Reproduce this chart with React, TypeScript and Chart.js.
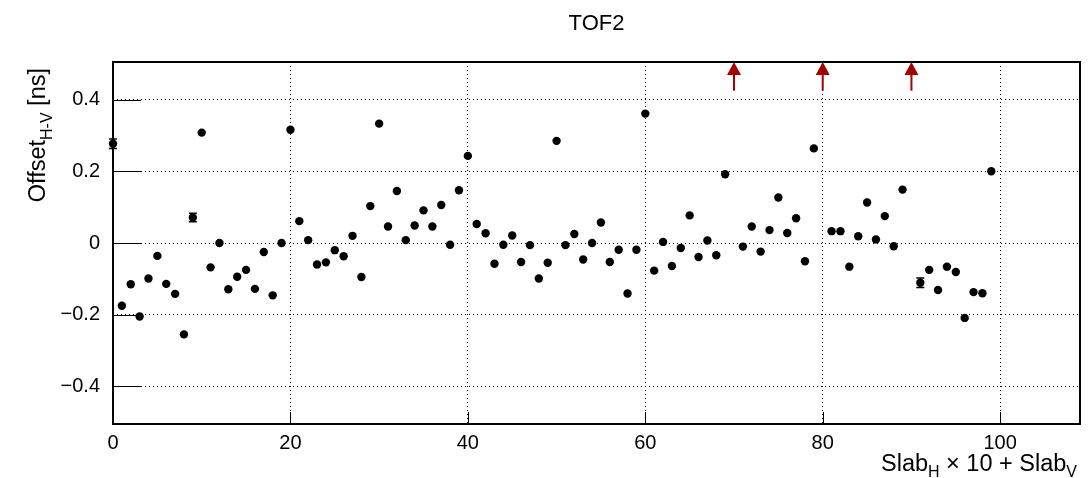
import React, { useEffect, useRef } from "react";
import { Chart, registerables } from "chart.js";

Chart.register(...registerables);

const FONT = '"Liberation Sans", Arial, Helvetica, sans-serif';

const chartTitle = "TOF2";

// Offset_{H-V} [ns] per channel (Slab_H x 10 + Slab_V); null = out of range (arrow)
const offsets: (number | null)[] = [
  0.277, -0.175, -0.115, -0.205, -0.099, -0.036, -0.114, -0.142, -0.255, 0.071,
  0.308, -0.068, 0.0, -0.129, -0.094, -0.075, -0.128, -0.025, -0.146, 0.0,
  0.316, 0.061, 0.008, -0.06, -0.054, -0.02, -0.037, 0.02, -0.095, 0.103,
  0.333, 0.046, 0.145, 0.008, 0.049, 0.091, 0.046, 0.106, -0.005, 0.147,
  0.243, 0.053, 0.027, -0.058, -0.005, 0.021, -0.053, -0.006, -0.099, -0.055,
  0.285, -0.006, 0.025, -0.046, 0.0, 0.057, -0.053, -0.019, -0.141, -0.019,
  0.361, -0.077, 0.003, -0.064, -0.014, 0.077, -0.039, 0.007, -0.034, 0.192,
  null, -0.01, 0.046, -0.024, 0.036, 0.127, 0.028, 0.069, -0.051, 0.264,
  null, 0.033, 0.033, -0.066, 0.019, 0.113, 0.01, 0.075, -0.009, 0.149,
  null, -0.111, -0.075, -0.131, -0.066, -0.081, -0.209, -0.137, -0.14, 0.2,
];

const errors: number[] = [
  0.013, 0.006, 0.006, 0.006, 0.006, 0.006, 0.006, 0.006, 0.006, 0.012,
  0.006, 0.006, 0.006, 0.006, 0.006, 0.006, 0.006, 0.006, 0.006, 0.006,
  0.006, 0.006, 0.006, 0.006, 0.006, 0.006, 0.006, 0.006, 0.006, 0.006,
  0.006, 0.006, 0.006, 0.006, 0.006, 0.006, 0.006, 0.006, 0.006, 0.006,
  0.006, 0.006, 0.006, 0.006, 0.006, 0.006, 0.006, 0.006, 0.006, 0.006,
  0.006, 0.006, 0.006, 0.006, 0.006, 0.006, 0.006, 0.006, 0.006, 0.006,
  0.006, 0.006, 0.006, 0.006, 0.006, 0.006, 0.006, 0.006, 0.006, 0.006,
  0.0, 0.006, 0.006, 0.006, 0.006, 0.006, 0.006, 0.006, 0.006, 0.006,
  0.0, 0.006, 0.006, 0.006, 0.006, 0.006, 0.006, 0.006, 0.006, 0.006,
  0.0, 0.013, 0.006, 0.006, 0.006, 0.006, 0.006, 0.006, 0.006, 0.006,
];

const arrowSlabs: number[] = [70, 80, 90];
const arrowBaseValue = 0.425;

const xTicks: number[] = [0, 20, 40, 60, 80, 100];
const yTicks: number[] = [-0.4, -0.2, 0, 0.2, 0.4];
const xRange: [number, number] = [0, 109];
const yRange: [number, number] = [-0.505, 0.505];

const MARKER_R = 4.2;

function fmtY(v: number): string {
  if (Math.abs(v) < 1e-9) return "0";
  const s = Math.abs(v).toFixed(1);
  return v < 0 ? "\u2212" + s : s;
}

function drawRich(
  ctx: CanvasRenderingContext2D,
  parts: { t: string; sub?: boolean }[],
  endX: number,
  baseY: number,
  mainSize: number,
  subSize: number,
  subShift: number
) {
  const widths = parts.map((p) => {
    ctx.font = `${p.sub ? subSize : mainSize}px ${FONT}`;
    return ctx.measureText(p.t).width;
  });
  const total = widths.reduce((a, b) => a + b, 0);
  let x = endX - total;
  ctx.textAlign = "left";
  ctx.textBaseline = "alphabetic";
  parts.forEach((p, i) => {
    ctx.font = `${p.sub ? subSize : mainSize}px ${FONT}`;
    ctx.fillText(p.t, x, baseY + (p.sub ? subShift : 0));
    x += widths[i];
  });
}

const decorPlugin = {
  id: "rootDecor",
  beforeDatasetsDraw(chart: any) {
    const { ctx } = chart;
    const xs = chart.scales.x;
    const ys = chart.scales.y;
    ctx.save();
    ctx.strokeStyle = "#000";
    ctx.lineWidth = 1.5;
    offsets.forEach((v, i) => {
      if (v == null) return;
      const e = errors[i];
      if (!e) return;
      const px = xs.getPixelForValue(i);
      const y1 = ys.getPixelForValue(v + e);
      const y2 = ys.getPixelForValue(v - e);
      if (Math.abs(y2 - y1) / 2 <= MARKER_R) return; // hidden under the marker
      ctx.beginPath();
      ctx.moveTo(px, y1);
      ctx.lineTo(px, y2);
      ctx.moveTo(px - 4, y1);
      ctx.lineTo(px + 4, y1);
      ctx.moveTo(px - 4, y2);
      ctx.lineTo(px + 4, y2);
      ctx.stroke();
    });
    ctx.restore();
  },
  afterDatasetsDraw(chart: any) {
    const { ctx, chartArea } = chart;
    const xs = chart.scales.x;
    const ys = chart.scales.y;
    const { left, right, top, bottom } = chartArea;
    ctx.save();

    // inner tick marks
    ctx.strokeStyle = "#000";
    ctx.lineWidth = 1;
    ctx.beginPath();
    yTicks.forEach((v) => {
      const py = Math.round(ys.getPixelForValue(v)) + 0.5;
      ctx.moveTo(left, py);
      ctx.lineTo(left + 28, py);
    });
    xTicks.forEach((v) => {
      const px = Math.round(xs.getPixelForValue(v)) + 0.5;
      ctx.moveTo(px, bottom);
      ctx.lineTo(px, bottom - 12);
    });
    ctx.stroke();

    // frame
    ctx.lineWidth = 2;
    ctx.strokeRect(left, top, right - left, bottom - top);

    // out-of-range arrows
    ctx.strokeStyle = "#a30000";
    ctx.fillStyle = "#a30000";
    arrowSlabs.forEach((s) => {
      const px = xs.getPixelForValue(s);
      const yTip = ys.getPixelForValue(ys.max);
      const yBase = ys.getPixelForValue(arrowBaseValue);
      ctx.lineWidth = 2;
      ctx.beginPath();
      ctx.moveTo(px, yBase);
      ctx.lineTo(px, yTip + 12);
      ctx.stroke();
      ctx.beginPath();
      ctx.moveTo(px, yTip);
      ctx.lineTo(px - 7, yTip + 13);
      ctx.lineTo(px + 7, yTip + 13);
      ctx.closePath();
      ctx.fill();
    });

    // titles
    ctx.fillStyle = "#000";
    ctx.font = `22px ${FONT}`;
    ctx.textAlign = "center";
    ctx.textBaseline = "alphabetic";
    ctx.fillText(chartTitle, (left + right) / 2, 30);

    drawRich(
      ctx,
      [
        { t: "Slab" },
        { t: "H", sub: true },
        { t: " \u00d7 10 + Slab" },
        { t: "V", sub: true },
      ],
      right - 3,
      471,
      23.5,
      16,
      6
    );

    ctx.save();
    ctx.translate(45, top + 6);
    ctx.rotate(-Math.PI / 2);
    drawRich(
      ctx,
      [{ t: "Offset" }, { t: "H-V", sub: true }, { t: " [ns]" }],
      0,
      0,
      23.5,
      16,
      7
    );
    ctx.restore();

    ctx.restore();
  },
};

export default function App() {
  const canvasRef = useRef<HTMLCanvasElement | null>(null);

  useEffect(() => {
    document.body.style.margin = "0";
    const canvas = canvasRef.current;
    if (!canvas) return;

    const points = offsets
      .map((v, i) => (v == null ? null : { x: i, y: v }))
      .filter((p) => p !== null) as { x: number; y: number }[];

    const chart = new Chart(canvas, {
      type: "scatter",
      data: {
        datasets: [
          {
            label: chartTitle,
            data: points,
            backgroundColor: "#000",
            borderColor: "#000",
            borderWidth: 0,
            pointRadius: MARKER_R,
            pointHoverRadius: MARKER_R,
            clip: false as any,
          },
        ],
      },
      options: {
        animation: false,
        responsive: false,
        devicePixelRatio: 1,
        events: [],
        layout: { padding: { top: 62, right: 12, bottom: 0, left: 0 } },
        plugins: {
          legend: { display: false },
          title: { display: false },
          tooltip: { enabled: false },
        },
        scales: {
          x: {
            type: "linear",
            min: xRange[0],
            max: xRange[1],
            afterBuildTicks: (scale: any) => {
              scale.ticks = xTicks.map((v) => ({ value: v }));
            },
            afterFit: (scale: any) => {
              scale.height = 54;
            },
            grid: { color: "#000", lineWidth: 1, drawTicks: false },
            border: { display: false, dash: [1, 3] },
            ticks: {
              color: "#000",
              font: { family: FONT, size: 20 },
              padding: 7,
              maxRotation: 0,
              autoSkip: false,
              callback: (v: any) => String(v),
            },
          },
          y: {
            type: "linear",
            min: yRange[0],
            max: yRange[1],
            afterBuildTicks: (scale: any) => {
              scale.ticks = yTicks.map((v) => ({ value: v }));
            },
            afterFit: (scale: any) => {
              scale.width = 113;
            },
            grid: { color: "#000", lineWidth: 1, drawTicks: false },
            border: { display: false, dash: [1, 3] },
            ticks: {
              color: "#000",
              font: { family: FONT, size: 20 },
              padding: 13,
              autoSkip: false,
              callback: (v: any) => fmtY(Number(v)),
            },
          },
        },
      },
      plugins: [decorPlugin],
    } as any);

    return () => chart.destroy();
  }, []);

  return (
    <div style={{ width: 1092, height: 478, background: "#fff" }}>
      <canvas ref={canvasRef} width={1092} height={478} />
    </div>
  );
}
